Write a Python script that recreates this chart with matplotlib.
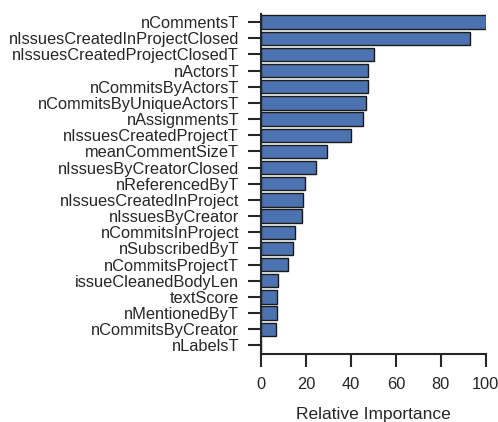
import matplotlib
matplotlib.use("Agg")
import matplotlib.pyplot as plt
import numpy as np

# Feature importances, scaled so the strongest feature is 100
features = [
    "nCommentsT",
    "nIssuesCreatedInProjectClosed",
    "nIssuesCreatedProjectClosedT",
    "nActorsT",
    "nCommitsByActorsT",
    "nCommitsByUniqueActorsT",
    "nAssignmentsT",
    "nIssuesCreatedProjectT",
    "meanCommentSizeT",
    "nIssuesByCreatorClosed",
    "nReferencedByT",
    "nIssuesCreatedInProject",
    "nIssuesByCreator",
    "nCommitsInProject",
    "nSubscribedByT",
    "nCommitsProjectT",
    "issueCleanedBodyLen",
    "textScore",
    "nMentionedByT",
    "nCommitsByCreator",
    "nLabelsT",
]
importance = [100, 93.2, 50.4, 47.7, 47.4, 46.9, 45.2, 39.8, 29.5, 24.3,
              19.7, 18.5, 18.3, 15.2, 14.0, 11.9, 7.6, 7.2, 7.0, 6.7, 0.0]
x_ticks = [0, 20, 40, 60, 80, 100]

plt.rcParams["font.family"] = ["Liberation Sans", "DejaVu Sans"]
ink = "#262626"

fig = plt.figure(figsize=(4.98, 4.22), dpi=100)
ax = fig.add_axes([0.5247, 0.1623, 0.975 - 0.5247, 0.9668 - 0.1623])

pos = np.arange(len(features))
ax.barh(pos, importance, height=0.82, color="#4C72B0",
        edgecolor="#1a1a1a", linewidth=1.0)

ax.set_ylim(len(features) - 0.5, -0.5)
ax.set_xlim(0, 100)
ax.set_yticks(pos)
ax.set_yticklabels(features)
ax.set_xticks(x_ticks)
ax.set_xticklabels([str(t) for t in x_ticks])

for side in ("top", "right"):
    ax.spines[side].set_visible(False)
for side in ("left", "bottom"):
    ax.spines[side].set_linewidth(1.5)
    ax.spines[side].set_color(ink)

ax.tick_params(axis="both", direction="out", length=9.5, width=1.5,
               color=ink, labelcolor=ink, labelsize=11.8, pad=6.5)
ax.tick_params(axis="x", pad=7.5)
ax.set_xlabel("Relative Importance", fontsize=12.5, color=ink, labelpad=11)

fig.savefig("out.png", dpi=100)
